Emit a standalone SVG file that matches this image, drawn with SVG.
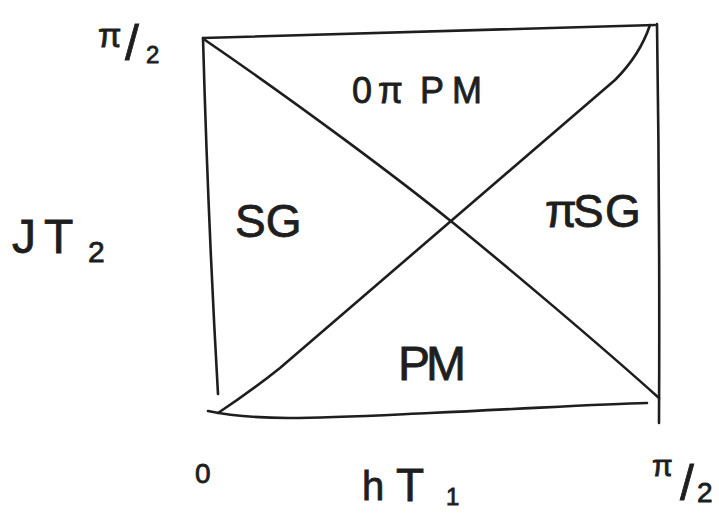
<svg xmlns="http://www.w3.org/2000/svg" width="719" height="513" viewBox="0 0 719 513">
<style>
  .ln { fill: none; stroke: #1e1e1e; stroke-width: 2.6; stroke-linecap: round; stroke-linejoin: round; }
  .t { font-family: "Liberation Sans", "DejaVu Sans", sans-serif; fill: #1e1e1e; stroke: #1e1e1e; stroke-width: 0.8; }
</style>
<rect width="719" height="513" fill="#ffffff"/>
<g id="frame">
  <path class="ln" d="M203,38 Q430,31 655,25"/>
  <path class="ln" d="M657,24 Q660,220 659,423"/>
  <path class="ln" d="M203,38 Q208,220 218,394"/>
  <path class="ln" d="M208,411 C260,422 320,418 430,413 S600,404 647,403"/>
</g>
<g id="connectors">
  <path class="ln" d="M205,40 C300,105 400,180 452,222 S600,345 659,398"/>
  <path class="ln" d="M218,413 Q250,392 280,368 L615,80 Q640,55 650,25"/>
</g>
<g id="region-0pi-pm">
  <text class="t" font-size="36" x="352 378 410 420 452" y="103">0π PM</text>
</g>
<g id="region-sg">
  <text class="t" font-size="46" x="235" y="237">SG</text>
</g>
<g id="region-pisg">
  <text class="t" font-size="46" x="545 573 605" y="227">πSG</text>
</g>
<g id="region-pm">
  <text class="t" font-size="48" x="398 426" y="380">PM</text>
</g>
<g id="axis-y">
  <text class="t" font-size="48" x="12 44" y="253">JT</text>
  <text class="t" font-size="30" x="88" y="262">2</text>
</g>
<g id="tick-y-top">
  <text class="t" font-size="34" x="98" y="47">π</text>
  <text class="t" font-size="50" x="125" y="60">/</text>
  <text class="t" font-size="24" x="146" y="63">2</text>
</g>
<g id="tick-x-origin">
  <text class="t" font-size="28" x="195" y="483">0</text>
</g>
<g id="axis-x">
  <text class="t" font-size="40" x="362" y="500">h</text>
  <text class="t" font-size="46" x="396" y="501">T</text>
  <text class="t" font-size="24" x="446" y="505">1</text>
</g>
<g id="tick-x-right">
  <text class="t" font-size="30" x="652" y="476">π</text>
  <text class="t" font-size="50" x="680" y="500">/</text>
  <text class="t" font-size="28" x="697" y="502">2</text>
</g>
</svg>
